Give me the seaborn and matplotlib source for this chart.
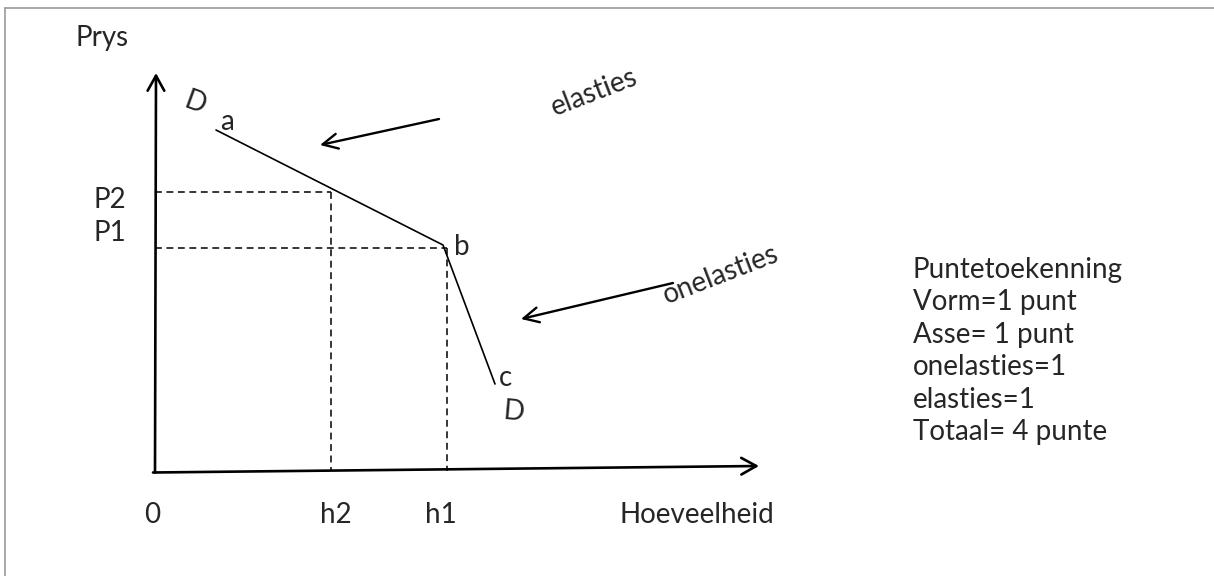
"""
Vraag-kurwe met elastiese en onelastiese gedeeltes (Prys vs Hoeveelheid)
"""

import numpy as np
import pandas as pd
import matplotlib
matplotlib.use('Agg')
import matplotlib.pyplot as plt
from matplotlib.lines import Line2D
import seaborn as sns

sns.set_theme(style='white')
plt.rcParams['font.family'] = ['Lato', 'DejaVu Sans']

# ── data ─────────────────────────────────────────────────────────────────────
curve_labels = ['a', 'b', 'c']
curve_q = [1.22, 5.76, 6.80]          # hoeveelheid
curve_p = [6.82, 4.52, 1.74]          # prys

price_levels = [5.58, 4.46]           # P2, P1
price_labels = ['P2', 'P1']
qty_levels = [3.52, 5.84]             # h2, h1
qty_labels = ['h2', 'h1']

score_lines = ['Puntetoekenning', 'Vorm=1 punt', 'Asse= 1 punt',
               'onelasties=1', 'elasties=1', 'Totaal= 4 punte']

BLACK = '#000000'
FS = 20

fig = plt.figure(figsize=(12.14, 5.76), dpi=100)
ax = fig.add_axes([0, 0, 1, 1])
ax.set_xlim(-3.1, 21.18)
ax.set_ylim(-2.1, 9.42)
ax.axis('off')

# raam rondom die prent
fig.add_artist(Line2D([5/1214, 1], [1 - 8/576, 1 - 8/576], transform=fig.transFigure,
                      color='#9a9a9a', lw=1.2))
fig.add_artist(Line2D([5/1214, 5/1214], [0, 1 - 8/576], transform=fig.transFigure,
                      color='#9a9a9a', lw=1.2))

# asse met pyle
axis_kw = dict(arrowstyle='->,head_length=0.9,head_width=0.5', color=BLACK, lw=1.9,
               shrinkA=0, shrinkB=0)
ax.annotate('', xy=(0.02, 7.96), xytext=(0, -0.03), arrowprops=axis_kw)
ax.annotate('', xy=(12.08, 0.1), xytext=(-0.04, -0.03), arrowprops=axis_kw)

# vraagkurwe
df = pd.DataFrame({'Q': curve_q, 'P': curve_p})
sns.lineplot(data=df, x='Q', y='P', sort=False, color=BLACK, lw=1.2, ax=ax)

# stippellyne
for p, q in zip(price_levels, qty_levels):
    ax.plot([0, q], [p, p], ls=(0, (4.5, 3)), color=BLACK, lw=1.1)
    ax.plot([q, q], [p, 0], ls=(0, (4.5, 3)), color=BLACK, lw=1.1)

# etikette
ax.text(-1.06, 8.66, 'Prys', fontsize=FS, ha='center', va='center')
label_y = {'P2': 5.42, 'P1': 4.76}
for lab in price_labels:
    ax.text(-0.9, label_y[lab], lab, fontsize=FS, ha='center', va='center')
ax.text(-0.06, -0.88, '0', fontsize=FS, ha='center', va='center')
for lab, q in zip(qty_labels, qty_levels):
    ax.text(q + (0.1 if lab == 'h2' else -0.12), -0.88, lab, fontsize=FS,
            ha='center', va='center')
ax.text(10.84, -0.88, 'Hoeveelheid', fontsize=FS, ha='center', va='center')

ax.text(0.8, 7.36, 'D', fontsize=FS, ha='center', va='center', rotation=-20)
ax.text(curve_q[0] + 0.22, curve_p[0] + 0.16, curve_labels[0], fontsize=FS,
        ha='center', va='center')
ax.text(curve_q[1] + 0.38, curve_p[1] - 0.04, curve_labels[1], fontsize=FS,
        ha='center', va='center')
ax.text(curve_q[2] + 0.22, curve_p[2] + 0.12, curve_labels[2], fontsize=FS,
        ha='center', va='center')
ax.text(7.18, 1.18, 'D', fontsize=FS, ha='center', va='center', rotation=-5)

# pyle na die kurwe
note_kw = dict(arrowstyle='->,head_length=0.9,head_width=0.45', color=BLACK, lw=1.7,
               shrinkA=0, shrinkB=0)
ax.annotate('', xy=(3.3, 6.52), xytext=(5.68, 7.04), arrowprops=note_kw)
ax.annotate('', xy=(7.32, 3.04), xytext=(10.36, 3.76), arrowprops=note_kw)
ax.text(8.78, 7.58, 'elasties', fontsize=FS, ha='center', va='center', rotation=21)
ax.text(11.32, 3.92, 'onelasties', fontsize=FS, ha='center', va='center', rotation=21)

# puntetoekenning
for i, line in enumerate(score_lines):
    ax.text(15.16, 4.02 - i * 0.648, line, fontsize=FS, ha='left', va='center')

plt.savefig('out.png', dpi=100)
plt.close()
